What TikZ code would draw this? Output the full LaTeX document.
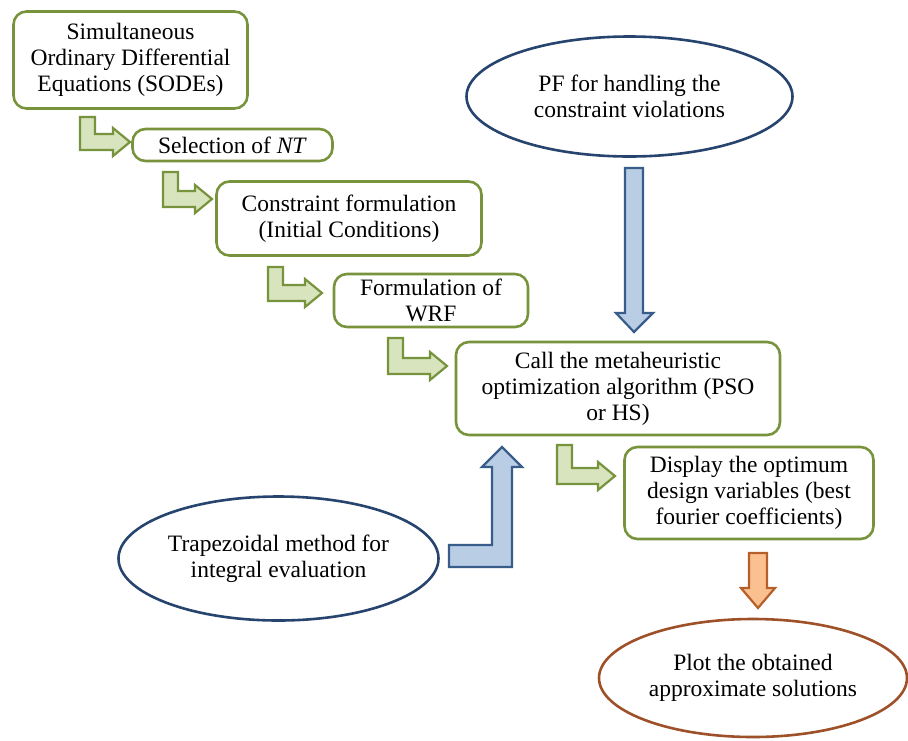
\documentclass[tikz,border=0pt]{standalone}
\usepackage{fontspec}
\setmainfont{Liberation Serif}
\usetikzlibrary{shapes.geometric}

\definecolor{stepline}{RGB}{119,147,60}
\definecolor{stepfill}{RGB}{215,228,189}
\definecolor{ovalblue}{RGB}{38,68,110}
\definecolor{bluefill}{RGB}{185,205,229}
\definecolor{blueline}{RGB}{56,93,138}
\definecolor{orangefill}{RGB}{250,192,144}
\definecolor{orangeline}{RGB}{182,95,40}
\definecolor{ovalbrown}{RGB}{158,80,40}

\tikzset{
  stepbox/.style={draw=stepline, line width=2.6pt, rounded corners=13pt,
    fill=white, align=center, inner sep=0pt, font=\fontsize{23.5}{26}\selectfont},
  oval/.style={ellipse, line width=2.6pt, fill=white, align=center,
    inner sep=0pt, font=\fontsize{23.5}{26}\selectfont},
  greenarrow/.style={draw=stepline, fill=stepfill, line width=2.2pt, line join=miter},
  bluearrow/.style={draw=blueline, fill=bluefill, line width=2.2pt, line join=miter},
  orangearrow/.style={draw=orangeline, fill=orangefill, line width=2.2pt, line join=miter}
}

% L-shaped block arrow: stem left x, stem top y, tip x, arm centre y
\newcommand\bentarr[4]{%
  \draw[greenarrow] (#1,#2) -- ({#1+15},#2) -- ({#1+15},{#4-8})
    -- ({#3-17},{#4-8}) -- ({#3-17},{#4-14}) -- (#3,#4)
    -- ({#3-17},{#4+14}) -- ({#3-17},{#4+8}) -- (#1,{#4+8}) -- cycle;}

\begin{document}
\begin{tikzpicture}[x=1pt,y=-1pt]
\useasboundingbox (0,0) rectangle (908,740);

% process steps
\node[stepbox, minimum width=234pt, minimum height=97pt] (sodes) at (130.5,60)
  {Simultaneous\\Ordinary Differential\\Equations (SODEs)};
\node[stepbox, minimum width=200pt, minimum height=32pt] (nt) at (232.5,145)
  {Selection of \textit{NT}};
\node[stepbox, minimum width=265pt, minimum height=74pt] (cons) at (349,218.5)
  {Constraint formulation\\(Initial Conditions)};
\node[stepbox, minimum width=194pt, minimum height=53pt] (wrf) at (431,300.5)
  {Formulation of\\WRF};
\node[stepbox, minimum width=324pt, minimum height=93pt] (meta) at (618,388.5)
  {Call the metaheuristic\\optimization algorithm (PSO\\or HS)};
\node[stepbox, minimum width=249pt, minimum height=92pt] (disp) at (749,493)
  {Display the optimum\\design variables (best\\fourier coefficients)};

% side inputs and final output
\node[oval, draw=ovalblue, minimum width=326pt, minimum height=120pt] (pf) at (629.5,96.5)
  {PF for handling the\\constraint violations};
\node[oval, draw=ovalblue, minimum width=320pt, minimum height=124pt] (trap) at (278.5,558.5)
  {Trapezoidal method for\\integral evaluation};
\node[oval, draw=ovalbrown, minimum width=308pt, minimum height=118pt] (plot) at (753,678)
  {Plot the obtained\\approximate solutions};

% green step arrows
\bentarr{80}{117}{130}{142}
\bentarr{163}{172}{212}{199}
\bentarr{268}{267}{322}{293}
\bentarr{388}{338}{447}{366}
\bentarr{557}{445}{615}{476}

% PF feeding the optimizer
\draw[bluearrow] (625,168) -- (643,168) -- (643,313) -- (653,313) -- (634,332)
  -- (616,313) -- (625,313) -- cycle;

% integral evaluation feeding the optimizer
\draw[bluearrow] (449,545) -- (492,545) -- (492,467) -- (482,467) -- (502,447)
  -- (522,467) -- (512,467) -- (512,567) -- (449,567) -- cycle;

% results to plot
\draw[orangearrow] (749,553) -- (767,553) -- (767,588) -- (775,588) -- (758,608)
  -- (741,588) -- (749,588) -- cycle;
\end{tikzpicture}
\end{document}
